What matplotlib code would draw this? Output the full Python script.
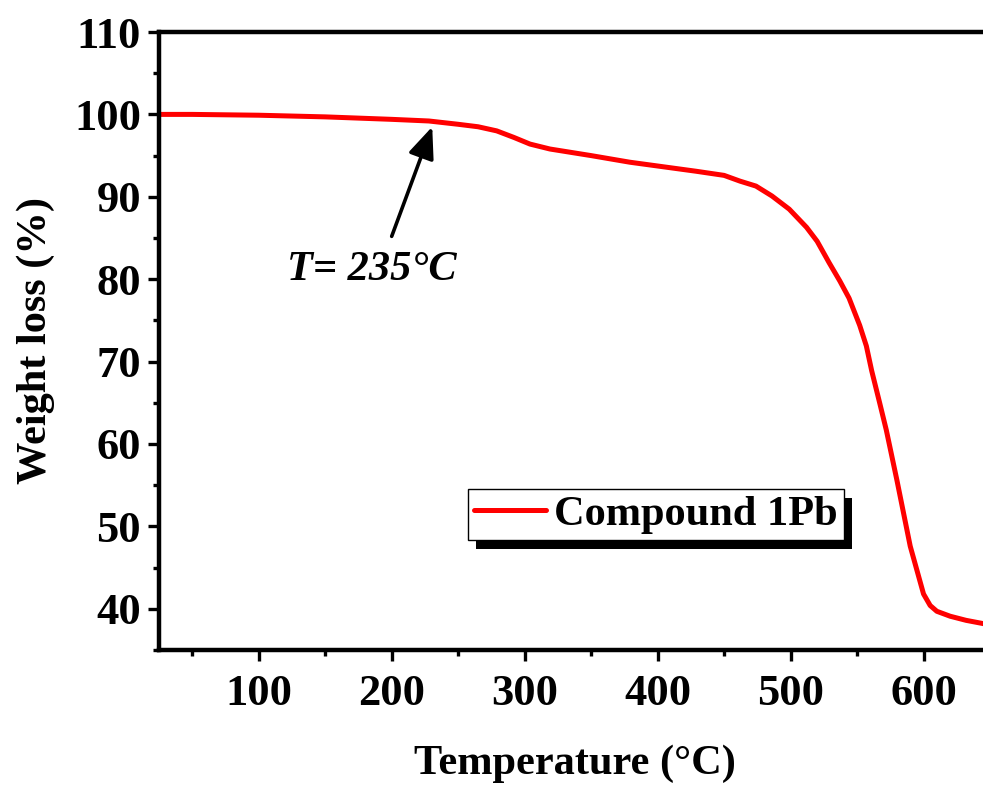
import matplotlib
matplotlib.use('Agg')
import matplotlib.pyplot as plt
import matplotlib.patheffects as pe
from matplotlib.ticker import MultipleLocator

# TGA curve
temperature = [25, 50, 100, 150, 200, 228, 250, 265, 279, 292, 304, 319, 350,
               379, 429, 450, 462, 474, 486, 499, 512, 520, 529, 537, 544,
               552, 557, 561, 567, 572, 580, 590, 600, 605, 610, 620, 632, 645]
weight = [100.0, 100.0, 99.9, 99.7, 99.4, 99.2, 98.8, 98.5, 98.0, 97.2, 96.4,
          95.8, 95.0, 94.2, 93.1, 92.6, 91.9, 91.3, 90.1, 88.5, 86.3, 84.6,
          82.0, 79.8, 77.7, 74.4, 71.9, 68.9, 65.0, 61.7, 55.6, 47.6, 41.8,
          40.4, 39.7, 39.1, 38.6, 38.2]
series_name = 'Compound 1Pb'
onset_label = 'T= 235°C'
onset_tip = (230.5, 98.5)
onset_tail = (200, 85.2)

plt.rcParams['font.family'] = ['Liberation Serif', 'DejaVu Serif']
plt.rcParams['font.weight'] = 'bold'
plt.rcParams['axes.labelweight'] = 'bold'

fig = plt.figure(figsize=(9.83, 7.85), dpi=100)
ax = fig.add_axes([159 / 983, 135 / 785, 831 / 983, 618 / 785])

ax.plot(temperature, weight, color='red', lw=3.6, solid_joinstyle='round',
        label=series_name)

ax.set_xlim(25, 650)
ax.set_ylim(35, 110)
ax.xaxis.set_major_locator(MultipleLocator(100))
ax.xaxis.set_minor_locator(MultipleLocator(50))
ax.yaxis.set_major_locator(MultipleLocator(10))
ax.yaxis.set_minor_locator(MultipleLocator(5))
ax.tick_params(which='major', direction='out', length=8, width=2.4,
               labelsize=32, pad=5)
ax.tick_params(axis='x', which='major', pad=9)
ax.tick_params(which='minor', direction='out', length=4.5, width=2.4)
for side in ['left', 'bottom', 'top', 'right']:
    ax.spines[side].set_linewidth(3.2)

ax.set_xlabel('Temperature (°C)', fontsize=30.5, labelpad=22)
ax.set_ylabel('Weight loss (%)', fontsize=30.5, labelpad=14)

# onset arrow + label
ax.annotate('', xy=onset_tip, xytext=onset_tail,
            arrowprops=dict(arrowstyle='-|>,head_length=0.6,head_width=0.25',
                            color='black', lw=2.6,
                            mutation_scale=32, shrinkA=0, shrinkB=0))
ax.text(121, 79.9, onset_label, fontsize=30.5, fontstyle='italic',
        fontweight='bold', va='baseline', ha='left')

leg = ax.legend(loc='upper left', bbox_to_anchor=(468 / 983, 1 - 489 / 785),
                bbox_transform=fig.transFigure, fontsize=30.5, frameon=True,
                fancybox=False, borderpad=0.14, borderaxespad=0,
                handlelength=1.7, handletextpad=0.2)
frame = leg.get_frame()
frame.set_edgecolor('black')
frame.set_linewidth(1.0)
frame.set_alpha(1)
frame.set_path_effects([pe.SimplePatchShadow(offset=(6, -6.5), shadow_rgbFace='black',
                                             alpha=1), pe.Normal()])
for line in leg.get_lines():
    line.set_linewidth(3.6)
    line.set_solid_capstyle('round')

fig.savefig('out.png', dpi=100)
